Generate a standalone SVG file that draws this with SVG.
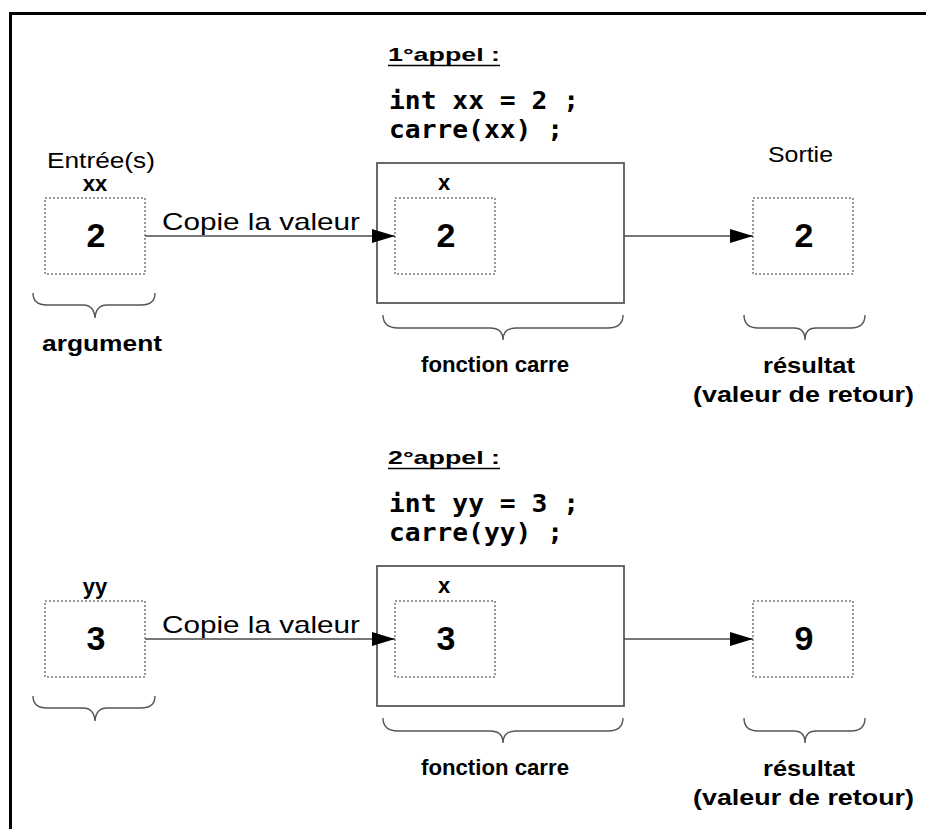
<svg xmlns="http://www.w3.org/2000/svg" width="926" height="829" viewBox="0 0 926 829">
<style>
.sans{font-family:"Liberation Sans",Arial,sans-serif;fill:#000}
.b{font-weight:bold}
.mono{font-family:"DejaVu Sans Mono","Liberation Mono",monospace;font-weight:bold;font-size:24px;fill:#000}
.dot{fill:none;stroke:#7a7a7a;stroke-width:1.5;stroke-dasharray:2 2}
.fn{fill:none;stroke:#5a5a5a;stroke-width:1.8}
.brace{fill:none;stroke:#555;stroke-width:1.4}
.conn{stroke:#4a4a4a;stroke-width:1.5;fill:none}
.num{font-size:34px}
.lbl{font-size:22px}
.ttl{font-size:19px}
.var{font-size:22px}
</style>
<defs>
<marker id="ah" markerUnits="userSpaceOnUse" markerWidth="23" markerHeight="14" refX="23" refY="7" orient="auto">
<path d="M0,0 L23,7 L0,14 z" fill="#000"/>
</marker>
</defs>
<rect x="0" y="0" width="926" height="829" fill="#fff"/>
<rect x="10.5" y="13.5" width="940" height="840" fill="none" stroke="#000" stroke-width="3"/>

<!-- ===== 1st call ===== -->
<g id="title1">
<text class="sans b ttl" x="388" y="61" textLength="112" lengthAdjust="spacingAndGlyphs">1°appel :</text>
<line x1="388" y1="65.5" x2="500" y2="65.5" stroke="#000" stroke-width="1.5"/>
<text class="mono" x="389" y="109" textLength="190" lengthAdjust="spacingAndGlyphs">int xx = 2 ;</text>
<text class="mono" x="389" y="138" textLength="174" lengthAdjust="spacingAndGlyphs">carre(xx) ;</text>
</g>

<g id="input1">
<text class="sans" x="47" y="168" font-size="22" textLength="108" lengthAdjust="spacingAndGlyphs">Entrée(s)</text>
<text class="sans b var" x="95" y="191" text-anchor="middle">xx</text>
<rect class="dot" x="45" y="198" width="100" height="76"/>
<text class="sans b num" x="96" y="247" text-anchor="middle">2</text>
<path class="brace" d="M33,293 Q33,305 47,305 L83,305 Q94,305 95,318 Q96,305 107,305 L141,305 Q155,305 155,293"/>
<text class="sans b lbl" x="42" y="351" textLength="120" lengthAdjust="spacingAndGlyphs">argument</text>
</g>

<g id="func1">
<rect class="fn" x="377" y="163" width="247" height="140"/>
<text class="sans b var" x="444" y="190" text-anchor="middle">x</text>
<rect class="dot" x="395" y="198" width="100" height="76"/>
<text class="sans b num" x="446" y="247" text-anchor="middle">2</text>
<path class="brace" d="M383,315 Q383,328 398,328 L490,328 Q503,328 503,340 Q503,328 516,328 L608,328 Q623,328 623,315"/>
<text class="sans b lbl" x="421" y="372" textLength="148" lengthAdjust="spacingAndGlyphs">fonction carre</text>
</g>

<g id="output1">
<text class="sans" x="768" y="162" font-size="22" textLength="65" lengthAdjust="spacingAndGlyphs">Sortie</text>
<rect class="dot" x="753" y="198" width="100" height="76"/>
<text class="sans b num" x="804" y="247" text-anchor="middle">2</text>
<path class="brace" d="M744,315 Q744,328 758,328 L794,328 Q805,328 805,340 Q805,328 816,328 L851,328 Q865,328 865,315"/>
<text class="sans b lbl" x="763" y="373" textLength="92" lengthAdjust="spacingAndGlyphs">résultat</text>
<text class="sans b lbl" x="693" y="402" textLength="221" lengthAdjust="spacingAndGlyphs">(valeur de retour)</text>
</g>

<!-- ===== 2nd call ===== -->
<g id="title2">
<text class="sans b ttl" x="388" y="464" textLength="112" lengthAdjust="spacingAndGlyphs">2°appel :</text>
<line x1="388" y1="468.5" x2="500" y2="468.5" stroke="#000" stroke-width="1.5"/>
<text class="mono" x="389" y="512" textLength="190" lengthAdjust="spacingAndGlyphs">int yy = 3 ;</text>
<text class="mono" x="389" y="541" textLength="174" lengthAdjust="spacingAndGlyphs">carre(yy) ;</text>
</g>

<g id="input2">
<text class="sans b var" x="95" y="594" text-anchor="middle">yy</text>
<rect class="dot" x="45" y="601" width="100" height="76"/>
<text class="sans b num" x="96" y="650" text-anchor="middle">3</text>
<path class="brace" d="M33,696 Q33,708 47,708 L83,708 Q94,708 95,721 Q96,708 107,708 L141,708 Q155,708 155,696"/>
</g>

<g id="func2">
<rect class="fn" x="377" y="566" width="247" height="140"/>
<text class="sans b var" x="444" y="593" text-anchor="middle">x</text>
<rect class="dot" x="395" y="601" width="100" height="76"/>
<text class="sans b num" x="446" y="650" text-anchor="middle">3</text>
<path class="brace" d="M383,718 Q383,731 398,731 L490,731 Q503,731 503,743 Q503,731 516,731 L608,731 Q623,731 623,718"/>
<text class="sans b lbl" x="421" y="775" textLength="148" lengthAdjust="spacingAndGlyphs">fonction carre</text>
</g>

<g id="output2">
<rect class="dot" x="753" y="601" width="100" height="76"/>
<text class="sans b num" x="804" y="650" text-anchor="middle">9</text>
<path class="brace" d="M744,718 Q744,731 758,731 L794,731 Q805,731 805,743 Q805,731 816,731 L851,731 Q865,731 865,718"/>
<text class="sans b lbl" x="763" y="776" textLength="92" lengthAdjust="spacingAndGlyphs">résultat</text>
<text class="sans b lbl" x="693" y="805" textLength="221" lengthAdjust="spacingAndGlyphs">(valeur de retour)</text>
</g>

<g id="connectors">
<line class="conn" x1="145" y1="236" x2="395" y2="236" marker-end="url(#ah)"/>
<text class="sans" x="162" y="230" font-size="24" textLength="198" lengthAdjust="spacingAndGlyphs">Copie la valeur</text>
<line class="conn" x1="624" y1="236" x2="753" y2="236" marker-end="url(#ah)"/>
<line class="conn" x1="145" y1="639" x2="395" y2="639" marker-end="url(#ah)"/>
<text class="sans" x="162" y="633" font-size="24" textLength="198" lengthAdjust="spacingAndGlyphs">Copie la valeur</text>
<line class="conn" x1="624" y1="639" x2="753" y2="639" marker-end="url(#ah)"/>
</g>
</svg>
